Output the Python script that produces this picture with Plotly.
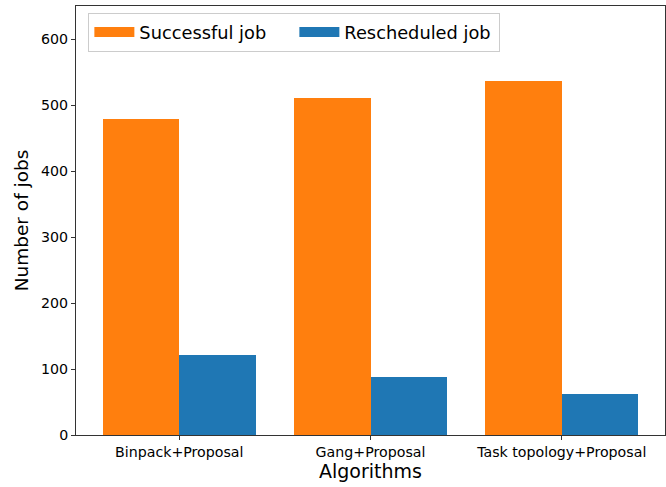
import plotly.graph_objects as go

algorithms = ["Binpack+Proposal", "Gang+Proposal", "Task topology+Proposal"]
successful = [479, 511, 536]
rescheduled = [121, 88, 62]
y_ticks = [0, 100, 200, 300, 400, 500, 600]
series_names = ["Successful job", "Rescheduled job"]
series_colors = ["#ff7f0e", "#1f77b4"]

idx = list(range(len(algorithms)))
fig = go.Figure()
fig.add_trace(go.Bar(x=[i - 0.2 for i in idx], y=successful, width=0.4, showlegend=False,
                     name=series_names[0], marker=dict(color=series_colors[0], line=dict(width=0))))
fig.add_trace(go.Bar(x=[i + 0.2 for i in idx], y=rescheduled, width=0.4, showlegend=False,
                     name=series_names[1], marker=dict(color=series_colors[1], line=dict(width=0))))
# legend patches (rectangular like matplotlib)
for n, c in zip(series_names, series_colors):
    fig.add_trace(go.Scatter(x=[None], y=[None], mode="lines", name=n,
                             line=dict(color=c, width=12)))

font = "DejaVu Sans"
fig.update_layout(
    width=666, height=487,
    margin=dict(l=76, r=1, t=6, b=52),
    plot_bgcolor="white", paper_bgcolor="white",
    font=dict(family=font, color="#000"),
    bargap=0, barmode="overlay",
    showlegend=True,
    legend=dict(orientation="h", x=0.021, y=0.984, xanchor="left", yanchor="top",
                bgcolor="white", bordercolor="#cccccc", borderwidth=1,
                font=dict(size=17.8, family=font), itemwidth=40, entrywidth=150,
                entrywidthmode="pixels", traceorder="normal"),
    xaxis=dict(range=[-0.54, 2.54], tickmode="array", tickvals=idx, ticktext=algorithms,
               showline=True, linecolor="#333", linewidth=1, mirror=True,
               ticks="outside", ticklen=4, tickcolor="#333", showgrid=False, zeroline=False,
               tickfont=dict(size=14.2), title=dict(text="Algorithms", font=dict(size=19), standoff=5)),
    yaxis=dict(range=[0, 650], tickmode="array", tickvals=y_ticks,
               showline=True, linecolor="#333", linewidth=1, mirror=True,
               ticks="outside", ticklen=4, tickcolor="#333", showgrid=False, zeroline=False,
               tickfont=dict(size=14.2), title=dict(text="Number of jobs", font=dict(size=18.5), standoff=7)),
)
fig.write_html("out.html")
